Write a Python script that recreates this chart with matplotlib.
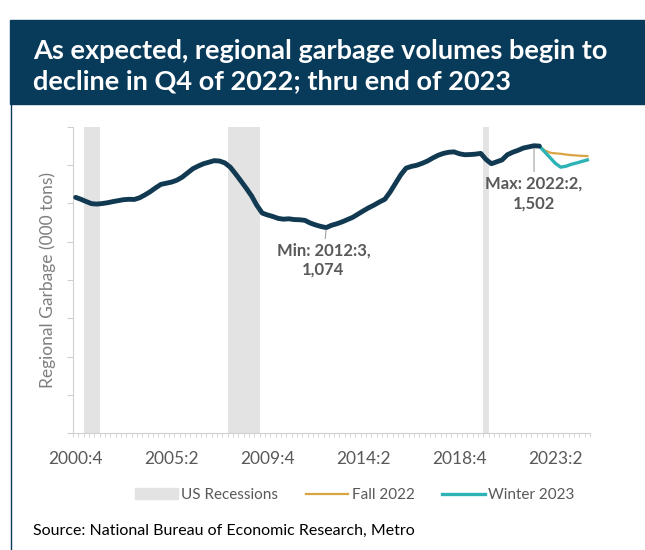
import matplotlib.pyplot as plt
from matplotlib.patches import Rectangle, Patch
from matplotlib.lines import Line2D

# quarters on the category axis, 2000:4 .. 2024:4
quarters = [f"{y}:{q}" for y in range(2000, 2025) for q in range(1, 5)]
quarters = quarters[quarters.index("2000:4"):]

# regional garbage, actuals (000 tons), 2000:4 .. 2022:3
actual = [1232, 1222, 1210, 1199, 1197, 1200, 1204, 1210, 1215, 1220,
          1222, 1221, 1230, 1245, 1262, 1282, 1300, 1306, 1312, 1322,
          1338, 1360, 1382, 1396, 1408, 1416, 1424, 1422, 1412, 1390,
          1355, 1318, 1280, 1240, 1190, 1150, 1140, 1132, 1122, 1118,
          1120, 1116, 1115, 1112, 1098, 1088, 1080, 1074, 1086, 1094,
          1104, 1116, 1128, 1145, 1162, 1178, 1192, 1208, 1222, 1260,
          1305, 1350, 1385, 1394, 1400, 1410, 1422, 1438, 1452, 1462,
          1468, 1470, 1460, 1455, 1456, 1458, 1462, 1430, 1408, 1418,
          1428, 1455, 1468, 1478, 1490, 1496, 1502, 1500]

# forecasts, 2022:3 .. 2024:4
forecast_start = "2022:3"
fall_2022 = [1500, 1478, 1466, 1462, 1460, 1456, 1453, 1451, 1449, 1448]
winter_2023 = [1500, 1470, 1440, 1410, 1390, 1395, 1405, 1412, 1420, 1428]

recession_quarters = ["2001:2", "2001:3", "2001:4",
                      "2008:1", "2008:2", "2008:3", "2008:4", "2009:1", "2009:2",
                      "2020:1"]

tick_labels = ["2000:4", "2005:2", "2009:4", "2014:2", "2018:4", "2023:2"]

navy = "#083a5a"
dark_line = "#113a52"
gray_txt = "#595959"
rec_color = "#e3e3e3"
fall_color = "#d9a441"
winter_color = "#2db3b5"

plt.rcParams['font.family'] = ['Lato', 'DejaVu Sans']

W, H = 645, 550
fig = plt.figure(figsize=(W / 100, H / 100), dpi=100)

# title banner
fig.patches.append(Rectangle((10 / W, 1 - 104 / H), 1 - 10 / W, 84 / H,
                             transform=fig.transFigure, color=navy, zorder=0))
fig.text(33 / W, 1 - 66 / H, "As expected, regional garbage volumes begin to\n"
         "decline in Q4 of 2022; thru end of 2023",
         color="white", fontsize=19.5, fontweight="bold", va="center", ha="left",
         linespacing=1.3)
fig.add_artist(Line2D([11 / W, 11 / W], [0, 1 - 104 / H], transform=fig.transFigure,
                      color=navy, lw=1))

ax = fig.add_axes([73 / W, 1 - 433 / H, 517 / W, 306 / H])

x_all = list(range(len(quarters)))
rec_x = [quarters.index(q) for q in recession_quarters]
ax.bar(rec_x, [1600] * len(rec_x), width=1.0, color=rec_color, zorder=1)

f0 = quarters.index(forecast_start)
fx = x_all[f0:f0 + len(fall_2022)]
ax.plot(fx, fall_2022, color=fall_color, lw=1.6, zorder=2)
ax.plot(fx, winter_2023, color=winter_color, lw=2.4, zorder=3)
ax.plot(x_all[:len(actual)], actual, color=dark_line, lw=3.5, zorder=4,
        solid_capstyle="round", solid_joinstyle="round")

ax.set_xlim(-0.5, len(quarters) - 0.5)
ax.set_ylim(0, 1600)
ax.set_yticks(range(0, 1601, 200))
ax.set_yticklabels([])
ax.tick_params(axis="y", length=4, color="#d0d0d0")

ax.set_xticks([quarters.index(t) for t in tick_labels])
ax.set_xticklabels(tick_labels, color=gray_txt, fontsize=12.5)
ax.set_xticks([i - 0.5 for i in range(len(quarters) + 1)], minor=True)
ax.tick_params(axis="x", which="major", length=0, pad=13)
ax.tick_params(axis="x", which="minor", length=3, color="#d0d0d0")

for s in ["top", "right"]:
    ax.spines[s].set_visible(False)
for s in ["left", "bottom"]:
    ax.spines[s].set_color("#d0d0d0")

ax.set_ylabel("Regional Garbage (000 tons)", color="#7f7f7f", fontsize=12.5, labelpad=5)

i_min = quarters.index("2012:3")
ax.annotate("Min: 2012:3,\n1,074", xy=(i_min, 1074), xytext=(i_min - 0.5, 995),
            ha="center", va="top", fontsize=12, fontweight="bold", color=gray_txt,
            linespacing=1.25,
            arrowprops=dict(arrowstyle="-", color="#a0a0a0", lw=0.8, shrinkA=1, shrinkB=2))
i_max = quarters.index("2022:2")
ax.annotate("Max: 2022:2,\n1,502", xy=(i_max, 1502), xytext=(i_max, 1345),
            ha="center", va="top", fontsize=12, fontweight="bold", color=gray_txt,
            linespacing=1.25,
            arrowprops=dict(arrowstyle="-", color="#a0a0a0", lw=0.8, shrinkA=1, shrinkB=2))

handles = [Patch(color=rec_color, label="US Recessions"),
           Line2D([], [], color=fall_color, lw=1.6, label="Fall 2022"),
           Line2D([], [], color=winter_color, lw=2.4, label="Winter 2023")]
fig.legend(handles=handles, loc="center", bbox_to_anchor=(0.55, 1 - 495 / H), ncol=3,
           frameon=False, fontsize=11, labelcolor=gray_txt, handlelength=2.8,
           handletextpad=0.2, columnspacing=1.8)

fig.text(33 / W, 1 - 531 / H, "Source: National Bureau of Economic Research, Metro",
         fontsize=11.5, color="black", va="center", ha="left")

fig.savefig("out.png", dpi=100)
